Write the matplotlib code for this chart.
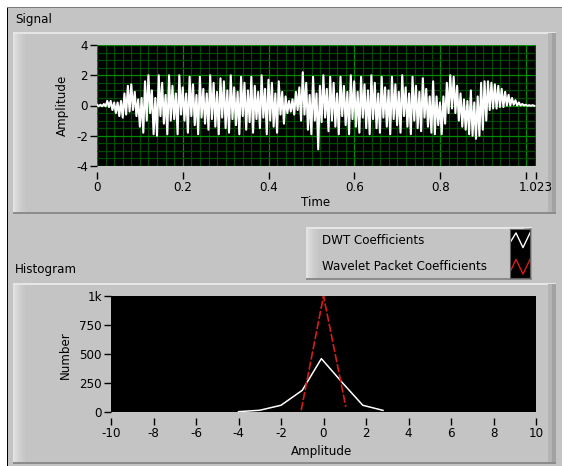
import numpy as np
import matplotlib
matplotlib.use("Agg")
import matplotlib.pyplot as plt
from matplotlib.patches import Rectangle
from matplotlib.transforms import Affine2D
from matplotlib.ticker import FixedLocator, MultipleLocator

plt.rcParams['font.family'] = 'DejaVu Sans'
plt.rcParams['axes.unicode_minus'] = False

W, H = 562, 466
FS = 8.6

# signal: upper / lower extremes in consecutive 8 ms slots
sig_hi = [0.05, 0.05, 0.1, 0.3, 0.3, 0.2, 0.2, 0.3, 0.8, 1.3, 1.4, 0.9, 0.4, 0.5, 1.6, 2.0,
          1.0, 0.5, 2.0, 1.5, 0.7, 2.0, 1.3, 0.8, 2.0, 1.2, 0.8, 1.9, 1.4, 0.7, 1.9, 1.1,
          0.8, 2.0, 1.5, 0.9, 1.8, 1.6, 1.0, 2.0, 1.2, 0.9, 1.9, 1.5, 1.0, 1.9, 1.3, 0.9,
          2.0, 1.1, 1.7, 1.5, 0.8, 1.6, 0.9, 0.6, 0.3, 0.4, 0.9, 1.2, 2.2, 1.5, 0.7, 1.9,
          0.8, 1.3, 2.0, 1.1, 1.9, 1.5, 0.8, 1.9, 1.3, 0.9, 2.0, 1.6, 0.9, 1.9, 1.4, 1.0,
          2.0, 1.5, 0.8, 1.9, 1.2, 1.0, 1.9, 1.4, 0.9, 2.0, 1.2, 0.8, 1.9, 1.3, 0.9, 1.8,
          1.1, 0.6, 1.6, 0.6, 0.2, 0.6, 1.5, 2.0, 1.9, 1.3, 0.8, 0.4, 0.3, 1.0, 0.2, 0.6,
          1.5, 1.6, 1.6, 1.5, 1.4, 1.3, 1.1, 0.9, 0.7, 0.5, 0.35, 0.2, 0.1, 0.05, 0.02, 0.02]
sig_lo = [-0.05, -0.05, -0.05, -0.1, -0.3, -0.5, -0.7, -0.8, -0.6, -0.4, -0.3, -0.7, -1.4, -1.8, -1.0, -0.5,
          -1.9, -2.0, -0.7, -1.2, -1.9, -1.0, -0.9, -1.9, -0.6, -1.0, -1.8, -0.7, -1.3, -1.9, -0.8, -1.2,
          -1.6, -0.9, -1.4, -1.9, -0.8, -1.5, -1.8, -0.9, -1.3, -1.9, -0.7, -1.6, -1.1, -1.8, -0.9, -1.5,
          -0.8, -1.9, -1.0, -1.4, -1.8, -0.6, -1.2, -0.5, -0.4, -0.6, -0.3, -1.0, -0.6, -1.6, -1.9, -1.0,
          -2.9, -1.1, -0.8, -1.7, -1.0, -1.4, -1.9, -0.7, -1.3, -1.9, -0.9, -1.4, -1.8, -0.8, -1.5, -1.9,
          -0.9, -1.5, -1.8, -0.8, -1.4, -1.9, -0.9, -1.3, -1.8, -0.7, -1.4, -1.9, -1.0, -1.5, -1.7, -0.8,
          -1.4, -1.8, -1.9, -1.3, -1.9, -1.2, -0.5, -0.2, -0.5, -1.0, -1.4, -1.6, -1.9, -2.0, -2.2, -2.0,
          -1.6, -1.0, -0.3, -0.2, -0.2, -0.1, -0.1, 0.0, 0.0, 0.05, 0.0, 0.0, 0.0, -0.02, -0.02, -0.02]
t_end = 1.023

# histogram of coefficients
dwt_amp = [-4, -3, -2, -1, -0.1, 0.9, 1.85, 2.8]
dwt_num = [3, 15, 58, 187, 460, 250, 58, 14]
wp_amp = [-1.05, 0, 1.05]
wp_num = [15, 1000, 45]

sig_ticks = [0, 0.2, 0.4, 0.6, 0.8, 1.0, 1.023]
sig_tick_labels = ['0', '0.2', '0.4', '0.6', '0.8', '', '1.023']
hist_xticks = list(range(-10, 11, 2))
hist_yticks = [0, 250, 500, 750, 1000]
hist_ytick_labels = ['0', '250', '500', '750', '1k']

BG = '#c4c4c4'
RED = '#d81c1c'

fig = plt.figure(figsize=(W / 100, H / 100), dpi=100)
fig.patch.set_facecolor('white')
px = Affine2D().scale(1 / W, -1 / H).translate(0, 1) + fig.transFigure


def rect(x, y, w, h, **kw):
    r = Rectangle((x, y), w, h, transform=px, linewidth=0, zorder=-10, **kw)
    fig.patches.append(r)


def panel(x0, y0, x1, y1):
    rect(x0, y0, x1 - x0, y1 - y0, facecolor=BG)
    # raised bevel
    for i, c in enumerate(['#e2e2e2', '#dadada', '#d4d4d4', '#cfcfcf', '#cbcbcb', '#c8c8c8']):
        rect(x0 + i * 2, y0 + 1, 2, y1 - y0 - 2, facecolor=c)
    rect(x0, y0, x1 - x0, 1.5, facecolor='#e6e6e6')
    rect(x1 - 8, y0 + 1, 4, y1 - y0 - 2, facecolor='#b4b4b4')
    rect(x1 - 4, y0 + 1, 4, y1 - y0 - 2, facecolor='#a2a2a2')
    rect(x0, y1 - 2, x1 - x0, 2, facecolor='#8c8c8c')


# window background
rect(7, 7, W - 7, H - 7, facecolor=BG)
rect(7, 7, 1.2, H - 7, facecolor='black')
rect(7, 7, W - 7, 1.2, facecolor='#7a7a7a')

panel(13, 32, 556, 214)
panel(13, 283, 556, 464)
panel(306, 227, 532, 280)


def text(x, y, s, **kw):
    kw.setdefault('fontsize', FS)
    fig.text(x, y, s, transform=px, **kw)


text(15, 19, 'Signal', ha='left', va='center')
text(15, 269, 'Histogram', ha='left', va='center')
text(322, 240, 'DWT Coefficients', ha='left', va='center')
text(322, 266, 'Wavelet Packet Coefficients', ha='left', va='center')
text(62, 105, 'Amplitude', ha='center', va='center', rotation=90)
text(316, 203, 'Time', ha='center', va='center')
text(65, 355, 'Number', ha='center', va='center', rotation=90)
text(322, 451, 'Amplitude', ha='center', va='center')


def axes_px(x0, y0, x1, y1):
    return fig.add_axes([x0 / W, 1 - y1 / H, (x1 - x0) / W, (y1 - y0) / H])


def style(ax):
    ax.set_facecolor('black')
    for s in ax.spines.values():
        s.set_visible(False)
    ax.spines['bottom'].set_position(('outward', 4))
    ax.tick_params(axis='both', which='major', direction='out', length=5, width=1,
                   color='black', labelsize=FS, pad=1.5)
    ax.tick_params(axis='both', which='minor', length=0)


# signal graph
ax1 = axes_px(97, 45, 536, 166)
style(ax1)
t_slot = t_end / len(sig_hi)
t = np.arange(len(sig_hi)) * t_slot
tt = np.column_stack([t, t + t_slot / 2]).ravel()
yy = np.column_stack([sig_hi, sig_lo]).ravel()
ax1.plot(tt, yy, color='white', lw=1.5, zorder=3)
ax1.set_xlim(0, t_end)
ax1.set_ylim(-4, 4)
ax1.xaxis.set_major_locator(FixedLocator(sig_ticks))
ax1.set_xticklabels(sig_tick_labels)
ax1.yaxis.set_major_locator(MultipleLocator(2))
ax1.xaxis.set_minor_locator(MultipleLocator(0.02))
ax1.yaxis.set_minor_locator(MultipleLocator(0.5))
ax1.grid(True, which='minor', color='#004a00', lw=0.9, zorder=1)
ax1.grid(True, which='major', color='#008c00', lw=0.9, zorder=2)

# histogram graph
ax2 = axes_px(111, 296, 536, 412)
style(ax2)
ax2.plot(dwt_amp, dwt_num, color='white', lw=1.1)
ax2.plot(wp_amp, wp_num, color=RED, lw=1.2, dashes=(5, 1.2))
ax2.set_xlim(-10, 10)
ax2.set_ylim(0, 1000)
ax2.set_xticks(hist_xticks)
ax2.set_xticklabels([str(v) for v in hist_xticks])
ax2.set_yticks(hist_yticks)
ax2.set_yticklabels(hist_ytick_labels)

# legend line samples
axl = axes_px(510, 229, 530, 278)
axl.set_facecolor('black')
axl.set_xticks([])
axl.set_yticks([])
for s in axl.spines.values():
    s.set_color('#606060')
axl.set_xlim(0, 1)
axl.set_ylim(0, 1)
axl.plot([0.0, 0.3, 0.65, 1.0], [0.72, 0.92, 0.62, 0.92], color='white', lw=1)
axl.plot([0.0, 0.3, 0.65, 1.0], [0.12, 0.38, 0.08, 0.38], color=RED, lw=1)

fig.savefig('out.png', dpi=100, facecolor=fig.get_facecolor())
